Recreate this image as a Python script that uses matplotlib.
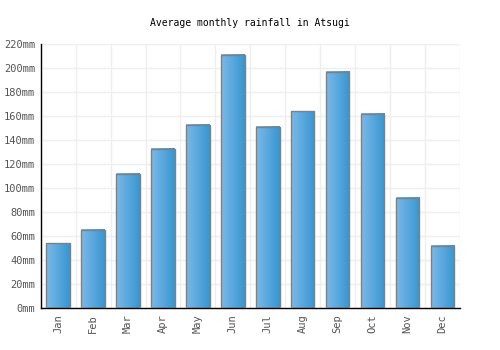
import matplotlib
matplotlib.use("Agg")
import matplotlib.pyplot as plt
import numpy as np
from matplotlib.colors import LinearSegmentedColormap

months = ["Jan", "Feb", "Mar", "Apr", "May", "Jun", "Jul", "Aug", "Sep", "Oct", "Nov", "Dec"]
rainfall = [54, 65, 112, 133, 153, 211, 151, 164, 197, 162, 92, 52]
yticks = [0, 20, 40, 60, 80, 100, 120, 140, 160, 180, 200, 220]

fig = plt.figure(figsize=(5, 3.5), dpi=100)
ax = fig.add_axes([0.0814, 0.119, 0.8386, 0.755])

mono = "DejaVu Sans Mono"
cmap = LinearSegmentedColormap.from_list("g", ["#7ab9ea", "#3896d0"])
grad = np.linspace(0, 1, 64).reshape(1, -1)
width = 0.67
x = np.arange(len(months))
for xi, v in zip(x, rainfall):
    ax.imshow(grad, cmap=cmap, extent=[xi - width / 2, xi + width / 2, 0, v],
              aspect="auto", zorder=2, interpolation="bilinear")
ax.bar(x, rainfall, width=width, facecolor="none", edgecolor="#808080", linewidth=1.0, zorder=3)

ax.set_xlim(-0.5, len(months) - 0.5)
ax.set_ylim(0, 220)
ax.set_yticks(yticks)
ax.set_yticklabels([f"{t}mm" for t in yticks], fontfamily=mono, fontsize=7.5, color="#555555")
ax.set_xticks(x)
ax.set_xticklabels(months, rotation=90, fontfamily=mono, fontsize=7.5, color="#555555")
ax.set_xticks(np.arange(-0.5, len(months), 1), minor=True)
ax.grid(False)
ax.grid(True, which="minor", axis="x", color="#eeeeee", linewidth=1, zorder=0)
ax.grid(True, which="major", axis="y", color="#eeeeee", linewidth=1, zorder=0)
ax.set_axisbelow(True)
ax.tick_params(axis="both", which="both", length=0, pad=4)
for s in ["top", "right"]:
    ax.spines[s].set_visible(False)
for s in ["left", "bottom"]:
    ax.spines[s].set_color("black")
    ax.spines[s].set_linewidth(1)

fig.suptitle("Average monthly rainfall in Atsugi", fontfamily=mono, fontsize=7, y=0.95, color="black")

fig.savefig("out.png", dpi=100)
